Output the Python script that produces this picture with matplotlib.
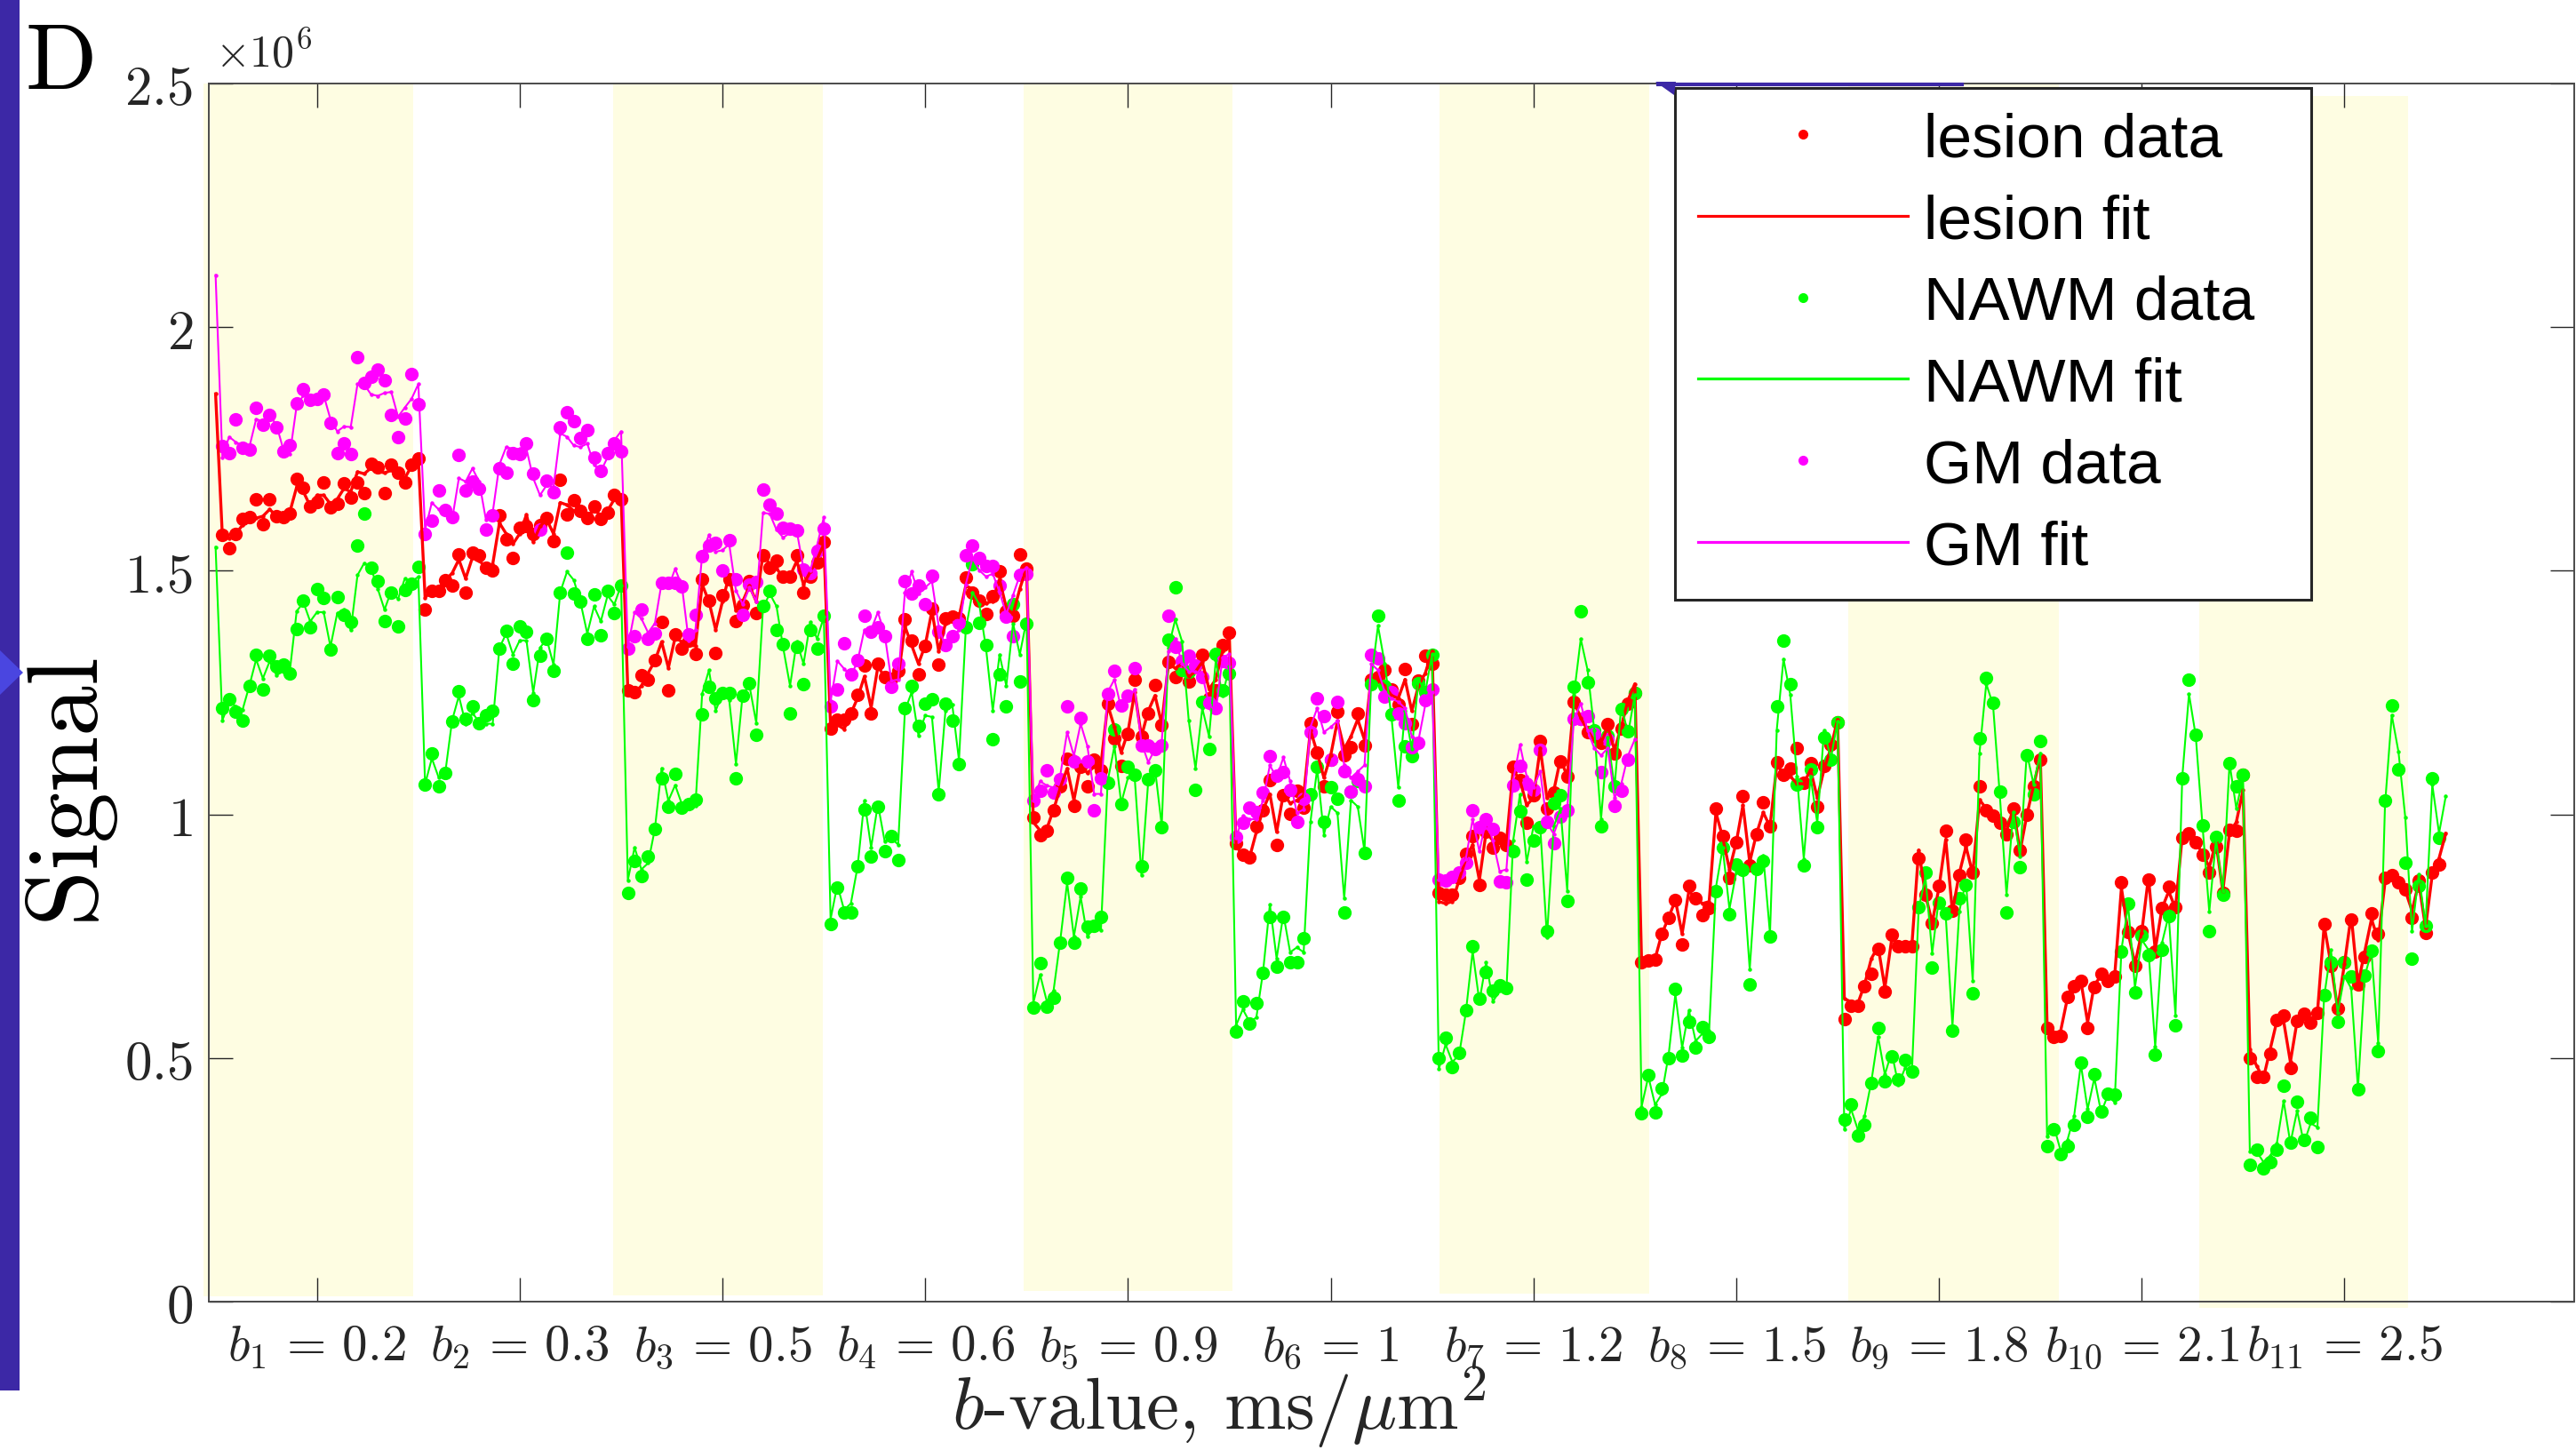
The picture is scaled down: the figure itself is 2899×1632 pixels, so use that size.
import numpy as np
import matplotlib
matplotlib.use("Agg")
import matplotlib.pyplot as plt
from matplotlib.patches import Rectangle, Polygon
from matplotlib.lines import Line2D

# ---------------- data (signal in units of 1e6) ----------------
b_values = ["0.2", "0.3", "0.5", "0.6", "0.9", "1", "1.2", "1.5", "1.8", "2.1", "2.5"]
legend_labels = ["lesion data", "lesion fit", "NAWM data", "NAWM fit", "GM data", "GM fit"]

lesion_data = [
    [1.573,1.546,1.575,1.607,1.610,1.647,1.596,1.647,1.612,1.610,1.618,1.688,1.671,1.632,1.642,1.681,1.630,1.637,1.679,1.650,1.681,1.659,1.720,1.713,1.659,1.718,1.701,1.681,1.718,1.731],
    [1.420,1.459,1.459,1.481,1.470,1.534,1.456,1.537,1.532,1.507,1.501,1.614,1.564,1.527,1.589,1.591,1.576,1.594,1.608,1.560,1.686,1.616,1.644,1.623,1.608,1.632,1.607,1.619,1.655,1.647],
    [1.255,1.251,1.285,1.277,1.317,1.395,1.254,1.370,1.340,1.357,1.330,1.482,1.439,1.332,1.450,1.483,1.397,1.430,1.479,1.413,1.532,1.507,1.521,1.488,1.488,1.532,1.456,1.488,1.517,1.559],
    [1.176,1.194,1.195,1.207,1.246,1.305,1.207,1.309,1.282,1.278,1.295,1.400,1.356,1.287,1.345,1.423,1.308,1.402,1.405,1.403,1.487,1.456,1.438,1.411,1.448,1.498,1.417,1.408,1.533,1.504],
    [0.994,0.958,0.966,1.009,1.058,1.114,1.018,1.098,1.057,1.112,1.091,1.227,1.156,1.100,1.165,1.277,1.160,1.207,1.266,1.183,1.313,1.282,1.300,1.272,1.303,1.327,1.238,1.254,1.348,1.373],
    [0.941,0.917,0.912,0.976,1.008,1.070,0.938,1.039,1.002,1.048,1.013,1.188,1.127,1.057,1.113,1.210,1.121,1.137,1.208,1.141,1.276,1.282,1.296,1.256,1.225,1.298,1.186,1.274,1.326,1.309],
    [0.839,0.836,0.836,0.869,0.919,0.955,0.856,0.965,0.931,0.951,0.938,1.098,1.070,0.982,1.039,1.151,1.012,1.044,1.109,1.078,1.230,1.196,1.168,1.165,1.147,1.185,1.125,1.176,1.228,1.250],
    [0.697,0.700,0.702,0.755,0.787,0.824,0.733,0.854,0.828,0.793,0.808,1.012,0.956,0.869,0.942,1.037,0.896,0.959,1.025,0.975,1.106,1.081,1.094,1.136,1.065,1.105,1.015,1.100,1.143,1.189],
    [0.580,0.607,0.607,0.647,0.673,0.724,0.637,0.754,0.730,0.729,0.730,0.910,0.835,0.777,0.853,0.966,0.803,0.876,0.949,0.880,1.057,1.009,0.998,0.983,0.959,1.012,0.927,1.000,1.057,1.112],
    [0.562,0.544,0.546,0.625,0.647,0.658,0.561,0.646,0.673,0.658,0.667,0.861,0.758,0.689,0.761,0.867,0.719,0.807,0.851,0.810,0.952,0.961,0.942,0.917,0.880,0.934,0.839,0.968,0.966,1.081],
    [0.500,0.461,0.461,0.509,0.578,0.587,0.479,0.577,0.590,0.573,0.592,0.775,0.689,0.602,0.697,0.784,0.651,0.707,0.797,0.755,0.869,0.875,0.860,0.846,0.788,0.864,0.756,0.881,0.898],
]
lesion_fit_b0 = 1.863
lesion_fit = [
    [1.573,1.566,1.576,1.594,1.613,1.608,1.612,1.626,1.613,1.615,1.621,1.672,1.662,1.633,1.655,1.655,1.637,1.647,1.669,1.662,1.703,1.699,1.711,1.704,1.701,1.706,1.701,1.690,1.715,1.733],
    [1.445,1.459,1.459,1.481,1.495,1.523,1.484,1.527,1.520,1.509,1.513,1.598,1.576,1.555,1.576,1.615,1.559,1.591,1.605,1.576,1.640,1.635,1.623,1.619,1.615,1.623,1.615,1.623,1.647,1.655],
    [1.255,1.248,1.264,1.290,1.315,1.354,1.301,1.363,1.354,1.347,1.346,1.472,1.437,1.379,1.437,1.491,1.418,1.437,1.469,1.437,1.533,1.514,1.504,1.488,1.489,1.520,1.472,1.498,1.523,1.555],
    [1.178,1.184,1.175,1.207,1.239,1.283,1.219,1.303,1.283,1.274,1.280,1.386,1.347,1.309,1.347,1.418,1.335,1.392,1.402,1.405,1.469,1.463,1.443,1.434,1.437,1.482,1.424,1.411,1.463,1.507],
    [0.984,0.967,0.971,1.010,1.055,1.094,1.029,1.101,1.085,1.098,1.101,1.225,1.179,1.127,1.169,1.251,1.160,1.212,1.244,1.186,1.309,1.300,1.309,1.283,1.293,1.313,1.257,1.277,1.335,1.365],
    [0.938,0.912,0.912,0.964,1.010,1.042,0.964,1.042,1.023,1.029,1.039,1.173,1.127,1.075,1.121,1.192,1.134,1.160,1.195,1.153,1.283,1.277,1.264,1.244,1.238,1.277,1.212,1.264,1.290,1.335],
    [0.821,0.817,0.821,0.865,0.909,0.938,0.865,0.964,0.946,0.949,0.942,1.092,1.070,1.019,1.034,1.136,1.034,1.048,1.114,1.078,1.231,1.198,1.173,1.151,1.147,1.180,1.132,1.180,1.235,1.268],
    [0.697,0.700,0.704,0.755,0.788,0.824,0.755,0.843,0.828,0.817,0.821,1.004,0.953,0.887,0.942,1.019,0.902,0.960,1.004,0.975,1.100,1.085,1.078,1.063,1.063,1.092,1.034,1.092,1.136,1.195],
    [0.622,0.615,0.612,0.651,0.704,0.729,0.644,0.743,0.736,0.732,0.732,0.927,0.835,0.778,0.849,0.949,0.800,0.878,0.934,0.878,1.030,1.012,1.002,0.984,0.966,1.012,0.924,0.998,1.059,1.119],
    [0.569,0.551,0.555,0.622,0.651,0.658,0.573,0.651,0.668,0.661,0.668,0.849,0.757,0.693,0.757,0.871,0.722,0.807,0.842,0.807,0.956,0.956,0.942,0.920,0.892,0.942,0.842,0.963,0.984,1.050],
    [0.517,0.484,0.458,0.517,0.576,0.576,0.492,0.576,0.592,0.580,0.592,0.772,0.693,0.601,0.693,0.793,0.651,0.718,0.785,0.743,0.860,0.873,0.860,0.844,0.802,0.860,0.768,0.877,0.910,0.961],
]

nawm_data = [
    [1.218,1.236,1.210,1.192,1.264,1.328,1.257,1.326,1.303,1.308,1.290,1.380,1.439,1.384,1.462,1.444,1.338,1.446,1.409,1.395,1.552,1.618,1.507,1.479,1.396,1.456,1.386,1.461,1.474,1.508],
    [1.062,1.125,1.058,1.085,1.191,1.252,1.196,1.221,1.188,1.204,1.213,1.340,1.377,1.310,1.386,1.374,1.234,1.326,1.361,1.295,1.456,1.537,1.454,1.436,1.361,1.452,1.367,1.458,1.413,1.470],
    [0.838,0.905,0.873,0.914,0.971,1.074,1.016,1.083,1.013,1.021,1.030,1.205,1.261,1.239,1.250,1.249,1.074,1.244,1.270,1.163,1.427,1.458,1.379,1.350,1.207,1.344,1.267,1.379,1.341,1.407],
    [0.775,0.850,0.799,0.799,0.893,1.010,0.913,1.016,0.925,0.956,0.906,1.219,1.263,1.182,1.228,1.237,1.042,1.227,1.193,1.103,1.384,1.514,1.393,1.348,1.154,1.288,1.221,1.432,1.273,1.391],
    [0.603,0.695,0.606,0.624,0.736,0.870,0.736,0.848,0.770,0.772,0.789,1.065,1.175,1.022,1.098,1.081,0.893,1.073,1.091,0.974,1.358,1.466,1.297,1.293,1.051,1.230,1.134,1.330,1.255,1.290],
    [0.554,0.617,0.570,0.613,0.675,0.790,0.688,0.790,0.696,0.697,0.745,1.042,1.098,0.984,1.055,1.032,0.798,1.046,1.068,0.921,1.267,1.407,1.264,1.206,1.028,1.139,1.120,1.269,1.251,1.328],
    [0.499,0.542,0.481,0.510,0.598,0.729,0.622,0.676,0.638,0.650,0.643,0.925,1.007,0.867,0.946,0.973,0.761,1.023,1.039,0.823,1.261,1.417,1.271,1.173,0.976,1.162,1.057,1.217,1.171,1.250],
    [0.387,0.465,0.389,0.438,0.499,0.642,0.505,0.574,0.522,0.564,0.544,0.842,0.931,0.795,0.898,0.887,0.651,0.888,0.905,0.749,1.222,1.357,1.267,1.061,0.896,1.092,0.973,1.158,1.112,1.189],
    [0.374,0.404,0.341,0.363,0.448,0.561,0.452,0.503,0.456,0.496,0.473,0.809,0.880,0.685,0.819,0.796,0.557,0.827,0.855,0.633,1.156,1.280,1.229,1.047,0.798,0.984,0.891,1.122,1.041,1.151],
    [0.319,0.354,0.302,0.319,0.363,0.490,0.380,0.466,0.390,0.427,0.425,0.718,0.817,0.635,0.751,0.711,0.507,0.722,0.791,0.567,1.074,1.276,1.164,0.978,0.760,0.954,0.835,1.105,1.057,1.081],
    [0.280,0.312,0.273,0.286,0.312,0.444,0.326,0.410,0.331,0.378,0.318,0.630,0.697,0.574,0.697,0.668,0.435,0.669,0.721,0.515,1.029,1.223,1.092,0.900,0.703,0.854,0.772,1.074,0.952],
]
nawm_fit_b0 = 1.549
nawm_fit = [
    [1.193,1.229,1.222,1.215,1.264,1.318,1.279,1.314,1.286,1.293,1.296,1.417,1.435,1.396,1.415,1.415,1.344,1.413,1.420,1.378,1.491,1.516,1.506,1.463,1.420,1.459,1.442,1.484,1.477,1.488],
    [1.062,1.115,1.076,1.087,1.193,1.243,1.186,1.208,1.190,1.186,1.186,1.342,1.371,1.328,1.357,1.357,1.250,1.342,1.360,1.307,1.456,1.498,1.481,1.435,1.371,1.427,1.396,1.449,1.431,1.470],
    [0.865,0.932,0.887,0.900,0.970,1.095,1.028,1.060,1.021,1.028,1.018,1.248,1.296,1.213,1.248,1.235,1.104,1.248,1.264,1.188,1.424,1.453,1.427,1.341,1.264,1.354,1.309,1.395,1.360,1.405],
    [0.785,0.855,0.804,0.817,0.893,1.028,0.932,1.021,0.945,0.951,0.938,1.213,1.251,1.162,1.203,1.200,1.047,1.213,1.226,1.111,1.379,1.456,1.431,1.341,1.213,1.328,1.264,1.392,1.328,1.399],
    [0.613,0.671,0.616,0.639,0.743,0.860,0.749,0.831,0.749,0.769,0.762,1.068,1.140,1.023,1.075,1.075,0.876,1.068,1.094,0.977,1.342,1.400,1.355,1.192,1.094,1.218,1.160,1.316,1.244,1.303],
    [0.567,0.600,0.574,0.583,0.678,0.815,0.704,0.795,0.717,0.727,0.717,0.984,1.094,0.958,1.016,1.003,0.827,1.029,1.016,0.925,1.277,1.387,1.309,1.199,1.055,1.212,1.134,1.277,1.251,1.329],
    [0.477,0.528,0.492,0.506,0.594,0.719,0.616,0.697,0.616,0.638,0.638,0.946,1.041,0.902,0.975,0.975,0.748,0.975,1.012,0.843,1.246,1.360,1.297,1.173,0.990,1.158,1.056,1.224,1.165,1.246],
    [0.400,0.462,0.404,0.426,0.506,0.631,0.521,0.598,0.535,0.550,0.557,0.850,0.931,0.806,0.880,0.880,0.682,0.887,0.916,0.755,1.173,1.319,1.246,1.078,0.909,1.078,0.982,1.173,1.114,1.191],
    [0.353,0.395,0.353,0.381,0.452,0.544,0.466,0.512,0.445,0.480,0.470,0.807,0.871,0.715,0.828,0.793,0.565,0.800,0.864,0.658,1.126,1.268,1.225,1.041,0.835,1.005,0.913,1.126,1.062,1.126],
    [0.339,0.360,0.310,0.331,0.381,0.487,0.395,0.459,0.388,0.424,0.409,0.722,0.814,0.644,0.743,0.722,0.523,0.736,0.793,0.587,1.076,1.247,1.161,0.977,0.800,0.949,0.842,1.105,1.012,1.076],
    [0.308,0.308,0.287,0.299,0.325,0.412,0.325,0.392,0.325,0.366,0.358,0.626,0.722,0.592,0.668,0.643,0.437,0.668,0.718,0.530,1.019,1.204,1.128,0.994,0.760,0.877,0.772,1.061,0.961,1.038],
]

gm_data = [
    [1.756,1.741,1.810,1.753,1.749,1.835,1.799,1.820,1.795,1.745,1.758,1.844,1.872,1.850,1.853,1.862,1.803,1.741,1.761,1.739,1.938,1.886,1.899,1.913,1.891,1.819,1.774,1.812,1.904,1.841],
    [1.576,1.603,1.665,1.625,1.610,1.737,1.664,1.683,1.669,1.584,1.613,1.710,1.701,1.742,1.740,1.762,1.700,1.584,1.684,1.662,1.794,1.825,1.807,1.772,1.789,1.732,1.705,1.742,1.762,1.745],
    [1.341,1.365,1.420,1.360,1.371,1.475,1.475,1.475,1.467,1.369,1.409,1.530,1.551,1.557,1.500,1.563,1.483,1.409,1.471,1.477,1.666,1.635,1.617,1.589,1.587,1.582,1.502,1.496,1.541,1.586],
    [1.221,1.256,1.351,1.287,1.317,1.408,1.374,1.384,1.365,1.262,1.310,1.479,1.454,1.470,1.431,1.490,1.374,1.347,1.365,1.394,1.532,1.551,1.527,1.510,1.510,1.469,1.405,1.365,1.491,1.494],
    [1.029,1.048,1.091,1.045,1.072,1.221,1.109,1.198,1.109,1.008,1.074,1.248,1.295,1.224,1.243,1.300,1.141,1.141,1.134,1.141,1.408,1.344,1.315,1.325,1.305,1.281,1.229,1.218,1.315,1.311],
    [0.954,0.983,1.014,1.005,1.045,1.119,1.080,1.087,1.050,0.984,1.033,1.168,1.239,1.201,1.112,1.230,1.088,1.046,1.073,1.057,1.327,1.320,1.242,1.251,1.207,1.188,1.137,1.147,1.235,1.257],
    [0.867,0.864,0.872,0.880,0.901,1.009,0.973,0.990,0.970,0.862,0.861,1.060,1.100,1.064,1.050,1.132,0.984,0.941,0.995,1.009,1.197,1.197,1.202,1.165,1.086,1.154,1.018,1.049,1.113],
]
gm_fit_b0 = 2.107
gm_fit = [
    [1.733,1.775,1.764,1.757,1.754,1.811,1.807,1.818,1.800,1.750,1.740,1.839,1.860,1.850,1.850,1.860,1.811,1.786,1.796,1.795,1.883,1.882,1.862,1.859,1.865,1.867,1.816,1.835,1.853,1.883],
    [1.584,1.640,1.626,1.619,1.605,1.690,1.683,1.710,1.683,1.605,1.619,1.718,1.754,1.750,1.750,1.750,1.690,1.655,1.676,1.672,1.782,1.775,1.757,1.754,1.761,1.718,1.704,1.733,1.768,1.786],
    [1.344,1.415,1.402,1.373,1.392,1.475,1.466,1.504,1.469,1.357,1.379,1.533,1.574,1.539,1.542,1.555,1.459,1.431,1.466,1.437,1.619,1.617,1.584,1.568,1.578,1.581,1.504,1.501,1.552,1.610],
    [1.232,1.315,1.299,1.283,1.315,1.379,1.379,1.415,1.370,1.274,1.277,1.456,1.498,1.453,1.466,1.478,1.386,1.341,1.360,1.379,1.472,1.526,1.501,1.488,1.494,1.456,1.411,1.450,1.491,1.507],
    [1.029,1.068,1.059,1.055,1.081,1.169,1.120,1.186,1.140,1.042,1.042,1.251,1.277,1.218,1.234,1.257,1.147,1.107,1.134,1.150,1.335,1.361,1.309,1.293,1.293,1.287,1.225,1.212,1.322,1.329],
    [0.951,0.997,0.990,0.990,1.029,1.101,1.075,1.117,1.068,1.003,1.010,1.179,1.218,1.169,1.179,1.192,1.101,1.075,1.088,1.101,1.309,1.296,1.251,1.238,1.231,1.218,1.160,1.153,1.225,1.251],
    [0.867,0.872,0.880,0.887,0.909,0.990,0.924,0.990,0.946,0.883,0.887,1.070,1.143,1.078,1.056,1.088,0.982,0.960,0.997,1.012,1.195,1.228,1.173,1.136,1.121,1.136,1.034,1.063,1.121,1.154],
]

# highlighted (yellow) measurement ranges in sample-index units, and their y-extent (x1e6)
band_x = [(-0.84, 30.18), (59.76, 90.79), (120.63, 151.52), (182.15, 213.17), (242.62, 273.78), (294.54, 325.44)]
band_y = [(0.011, 2.5), (0.013, 2.5), (0.022, 2.5), (0.016, 2.5), (0.0, 2.5), (-0.013, 2.474)]

SCALE = 1e6
N_PER_SHELL = 30

# ---------------- figure ----------------
plt.rcParams["mathtext.fontset"] = "cm"
plt.rcParams["font.family"] = ["DejaVu Serif"]
plt.rcParams["axes.unicode_minus"] = False

W, H, DPI = 2899, 1633, 100
fig = plt.figure(figsize=(W / DPI, H / DPI), dpi=DPI)
fig.patch.set_facecolor("white")


def fx(px):
    return px / W


def fy(py):
    return 1 - py / H


ax = fig.add_axes([fx(235), fy(1466), fx(2897) - fx(235), fy(95) - fy(1466)])

for (x0, x1), (y0, y1) in zip(band_x, band_y):
    ax.add_patch(Rectangle((x0, y0 * SCALE), x1 - x0, (y1 - y0) * SCALE,
                           facecolor="#fefde2", edgecolor="none", zorder=0.5, clip_on=False))


def series(data_shells, fit_b0, fit_shells):
    d = np.concatenate([np.asarray(s, float) for s in data_shells]) * SCALE
    f = np.concatenate([[fit_b0]] + [np.asarray(s, float) for s in fit_shells]) * SCALE
    xd = np.arange(2, 2 + len(d))
    xf = np.arange(1, 1 + len(f))
    return xd, d, xf, f


for (dat, b0, fit, col, flw) in [
    (lesion_data, lesion_fit_b0, lesion_fit, "#ff0000", 2.4),
    (nawm_data, nawm_fit_b0, nawm_fit, "#00ff00", 1.5),
    (gm_data, gm_fit_b0, gm_fit, "#ff00ff", 1.5),
]:
    xd, d, xf, f = series(dat, b0, fit)
    ax.plot(xd, d, ls="none", marker="o", ms=11, mew=0, color=col, zorder=2)
    ax.plot(xf, f, ls="-", lw=flw, marker="o", ms=3.2, mew=0, color=col, zorder=3)

ax.set_xlim(0, 350)
ax.set_ylim(0, 2.5 * SCALE)
ax.set_xticks(16 + N_PER_SHELL * np.arange(len(b_values)))
ax.set_xticklabels([r"$b_{%d}\,=\,%s$" % (i + 1, b) for i, b in enumerate(b_values)])
yt = [0, 0.5, 1, 1.5, 2, 2.5]
ax.set_yticks([v * SCALE for v in yt])
ax.set_yticklabels(["$%g$" % v for v in yt])

axis_col = "#4a4a4a"
for s in ax.spines.values():
    s.set_color(axis_col)
    s.set_linewidth(1.4)
ax.tick_params(axis="both", direction="in", length=19.5, width=1.0, color="#262626",
               top=True, right=True, labelcolor="#262626")
ax.tick_params(axis="x", labelsize=41, pad=15)
ax.tick_params(axis="y", labelsize=44, pad=13)

# exponent, panel letter, axis labels
fig.text(fx(242), fy(75), r"$\times10^{6}$", fontsize=36, color="#262626", ha="left", va="baseline")
fig.text(fx(28), fy(99), r"$\mathrm{D}$", fontsize=76, color="black", ha="left", va="baseline")
fig.text(fx(80), fy(891), r"$\mathrm{Signal}$", fontsize=82, rotation=90, ha="center", va="center",
         color="black")
fig.text(fx(1372), fy(1609), r"$b$-value, ms/$\mu$m$^2$", fontsize=60, family="cmr10",
         ha="center", va="baseline", color="#262626")

# legend
handles = [
    Line2D([], [], ls="none", marker="o", ms=8, mew=0, color="#ff0000"),
    Line2D([], [], ls="-", lw=2.3, color="#ff0000"),
    Line2D([], [], ls="none", marker="o", ms=8, mew=0, color="#00ff00"),
    Line2D([], [], ls="-", lw=2.3, color="#00ff00"),
    Line2D([], [], ls="none", marker="o", ms=8, mew=0, color="#ff00ff"),
    Line2D([], [], ls="-", lw=2.3, color="#ff00ff"),
]
leg = ax.legend(handles, legend_labels, loc="upper left",
                bbox_to_anchor=(fx(1885), fy(668), fx(2601) - fx(1885), fy(100) - fy(668)),
                bbox_transform=fig.transFigure, mode="expand", borderaxespad=0,
                prop={"family": "Liberation Sans", "size": 50},
                handlelength=3.39, handletextpad=0.26, borderpad=0.38, labelspacing=0.40,
                frameon=True, fancybox=False, framealpha=1, edgecolor="#262626")
leg.get_frame().set_linewidth(2.2)
leg.set_zorder(10)

# decorative blue strips from the source panel
fig.add_artist(Rectangle((0, fy(1566)), fx(22), 1 - fy(1566), transform=fig.transFigure,
                         facecolor="#3c28a6", edgecolor="none", zorder=20))
fig.add_artist(Polygon([(0, fy(733)), (fx(26), fy(758)), (0, fy(783))], closed=True,
                       transform=fig.transFigure, facecolor="#4a46e0", edgecolor="none", zorder=21))
fig.add_artist(Line2D([fx(1866), fx(2208)], [fy(96), fy(96)], transform=fig.transFigure,
                      color="#3c28a6", lw=3, zorder=20))
fig.add_artist(Polygon([(fx(1863), fy(93)), (fx(1886), fy(93)), (fx(1884), fy(108))], closed=True,
                       transform=fig.transFigure, facecolor="#3c28a6", edgecolor="none", zorder=20))

fig.savefig("out.png", dpi=DPI)
